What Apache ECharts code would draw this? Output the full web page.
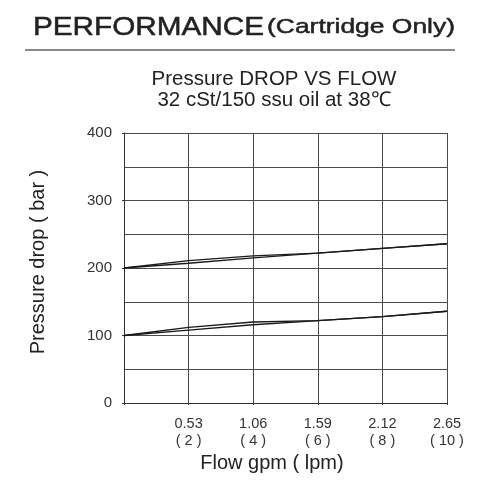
<!DOCTYPE html>
<html>
<head>
<meta charset="utf-8">
<script src="https://cdn.jsdelivr.net/npm/echarts@6/dist/echarts.min.js"></script>
<style>html,body{margin:0;padding:0;background:#fff;}#main{width:480px;height:500px;}</style>
</head>
<body>
<div id="main"></div>
<script>
// ---- data ----
const flowLpm = [0, 2, 4, 6, 8, 10];
const drop200Upper = [200, 211, 218, 222, 229, 236];
const drop200Lower = [200, 207, 215, 222, 229, 236];
const drop100Upper = [100, 112, 120, 122, 128, 136];
const drop100Lower = [100, 108, 116, 122, 128, 136];
const xTickGpm = ['0.53', '1.06', '1.59', '2.12', '2.65'];
const xTickLpm = ['2', '4', '6', '8', '10'];
const yTickLabels = ['0', '100', '200', '300', '400'];

const mainTitle = 'PERFORMANCE';
const mainTitleSub = '(Cartridge Only)';
const subTitle1 = 'Pressure DROP VS FLOW';
const subTitle2 = '32 cSt/150 ssu oil at 38℃';
const xName = 'Flow gpm ( lpm)';
const yName = 'Pressure drop ( bar )';

const FONT = '"Liberation Sans", Arial, sans-serif';

function measure(text, font) {
  const c = document.createElement('canvas').getContext('2d');
  c.font = font;
  return c.measureText(text).width;
}
const s1 = 231 / measure(mainTitle, '26px "Liberation Sans"');
const s2 = 188 / measure(mainTitleSub, '21px "Liberation Sans"');

function pairs(ys) { return flowLpm.map((x, i) => [x, ys[i]]); }
const lineStyle = { color: '#1a1a1a', width: 1.4 };
function curve(name, ys) {
  return { name, type: 'line', data: pairs(ys), showSymbol: false, symbol: 'none',
    lineStyle, silent: true, animation: false, z: 5 };
}

const chart = echarts.init(document.getElementById('main'), null, { renderer: 'canvas' });
chart.setOption({
  animation: false,
  backgroundColor: '#fff',
  graphic: [
    { type: 'text', x: 33, y: 15, scaleX: s1,
      style: { text: mainTitle, font: '26px "Liberation Sans"', fill: '#222', stroke: '#222', lineWidth: 0.5 } },
    { type: 'text', x: 267, y: 17, scaleX: s2,
      style: { text: mainTitleSub, font: '21px "Liberation Sans"', fill: '#222', stroke: '#222', lineWidth: 0.5 } },
    { type: 'line', shape: { x1: 25, y1: 50, x2: 455, y2: 50 }, style: { stroke: '#8a8a8a', lineWidth: 2 } },
    { type: 'text', x: 274, y: 90, style: { text: subTitle1, font: '20.5px "Liberation Sans"', fill: '#222', textAlign: 'center', textVerticalAlign: 'bottom' } },
    { type: 'text', x: 274, y: 111, style: { text: subTitle2, font: '20.5px "Liberation Sans"', fill: '#222', textAlign: 'center', textVerticalAlign: 'bottom' } }
  ],
  grid: { left: 124, right: 33, top: 133, bottom: 97, containLabel: false },
  xAxis: {
    type: 'value', min: 0, max: 10, interval: 2,
    name: xName, nameLocation: 'middle', nameGap: 49,
    nameTextStyle: { fontFamily: FONT, fontSize: 20, color: '#222', padding: [0, 27, 0, 0] },
    axisLine: { show: true, lineStyle: { color: '#333', width: 1 } },
    axisTick: { show: true, length: 2, lineStyle: { color: '#333' } },
    axisLabel: {
      fontFamily: FONT, fontSize: 14.5, color: '#333', lineHeight: 17, margin: 12,
      formatter: function (v) {
        const i = Math.round(v / 2) - 1;
        if (i < 0) return '';
        return xTickGpm[i] + '\n( ' + xTickLpm[i] + ' )';
      }
    },
    splitLine: { show: true, lineStyle: { color: '#4a4a4a', width: 1 } }
  },
  yAxis: {
    type: 'value', min: 0, max: 400, interval: 100,
    name: yName, nameLocation: 'middle', nameGap: 76, nameRotate: 90,
    nameTextStyle: { fontFamily: FONT, fontSize: 20, color: '#222', padding: [0, 0, 0, 12] },
    axisLine: { show: true, lineStyle: { color: '#333', width: 1 } },
    axisTick: { show: true, length: 2, lineStyle: { color: '#333' } },
    axisLabel: {
      fontFamily: FONT, fontSize: 15, color: '#333', margin: 12,
      formatter: function (v) { return yTickLabels[Math.round(v / 100)]; }
    },
    splitLine: { show: true, lineStyle: { color: '#4a4a4a', width: 1 } },
    minorTick: { show: false, splitNumber: 2 },
    minorSplitLine: { show: true, lineStyle: { color: '#4a4a4a', width: 1 } }
  },
  series: [
    curve('200 bar rising', drop200Upper),
    curve('200 bar falling', drop200Lower),
    curve('100 bar rising', drop100Upper),
    curve('100 bar falling', drop100Lower)
  ]
});
</script>
</body>
</html>
